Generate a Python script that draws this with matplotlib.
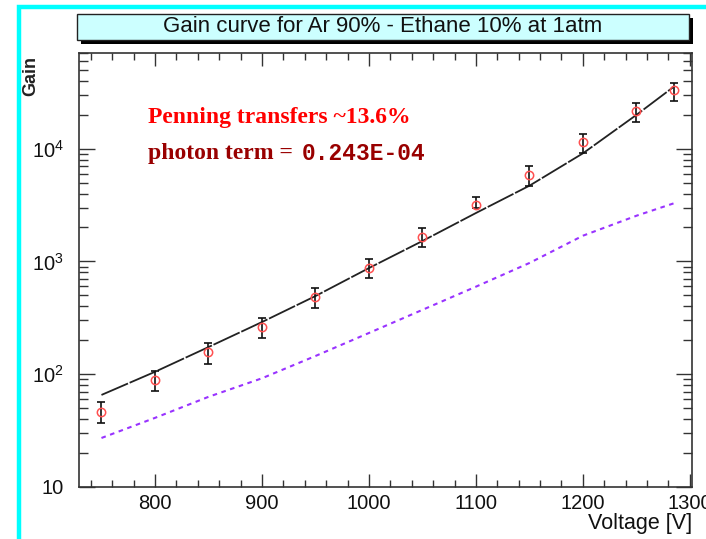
import matplotlib
matplotlib.use("Agg")
import matplotlib.pyplot as plt
from matplotlib.patches import Rectangle
from matplotlib.ticker import FixedLocator, MultipleLocator, LogLocator, NullFormatter, FixedFormatter

# ---- data ----
voltage = [750, 800, 850, 900, 950, 1000, 1050, 1100, 1150, 1200, 1250, 1285]
gain = [46, 89, 157, 262, 483, 873, 1645, 3160, 5880, 11500, 21400, 32900]
gain_lo = [37, 71, 123, 209, 386, 711, 1343, 3000, 4690, 9080, 17200, 26200]
gain_hi = [57, 107, 189, 316, 580, 1053, 1976, 3725, 7050, 13450, 25500, 38400]
fit_gain = [65.5, 105, 174, 290, 493, 873, 1517, 2686, 4690, 9080, 19900, 35400]
nophoton_gain = [27.2, 41, 63, 92, 145, 232, 372, 597, 968, 1690, 2540, 3275]
xtick_vals = [800, 900, 1000, 1100, 1200, 1300]
ytick_vals = [10, 100, 1000, 10000]
ytick_labels = ["10", r"$\mathregular{10^{2}}$", r"$\mathregular{10^{3}}$", r"$\mathregular{10^{4}}$"]

W, H = 706, 539
fig = plt.figure(figsize=(W / 100, H / 100), dpi=100)
fig.patch.set_facecolor("white")

def fx(px):
    return px / W

def fy(py):
    return 1 - py / H

# cyan frame
fig.add_artist(Rectangle((fx(18.5), fy(560)), fx(760), 553 / H,
                         transform=fig.transFigure, fill=False,
                         edgecolor="#00ffff", lw=3.2, zorder=0))

# title box with shadow
fig.add_artist(Rectangle((fx(81), fy(44.5)), fx(612), 26 / H, transform=fig.transFigure,
                         facecolor="black", edgecolor="black", lw=0, zorder=1))
fig.add_artist(Rectangle((fx(76.5), fy(39.5)), fx(612), 26 / H, transform=fig.transFigure,
                         facecolor="#ccffff", edgecolor="#222222", lw=1.0, zorder=2))
fig.text(fx(382.5), fy(26.5), "Gain curve for Ar 90% - Ethane 10% at 1atm",
         ha="center", va="center", fontsize=16, family="Liberation Sans",
         color="#111111", zorder=3)

ax = fig.add_axes([fx(79), fy(487), fx(692 - 79), (487 - 53) / H])
ax.set_yscale("log")
ax.set_xlim(729, 1302)
ax.set_ylim(10, 10 ** 4.848)

# fitted curve
ax.plot(voltage, fit_gain, color="#222222", lw=1.3, dashes=(16, 1.0), zorder=3)
# no-photon curve
ax.plot(voltage, nophoton_gain, color="#9933ff", lw=1.5, dashes=(2.2, 2.2), zorder=3)
# data
yerr = [[g - lo for g, lo in zip(gain, gain_lo)], [hi - g for g, hi in zip(gain, gain_hi)]]
ax.errorbar(voltage, gain, yerr=yerr, fmt="none", ecolor="#111111", elinewidth=1.2,
            capsize=3.2, capthick=1.2, zorder=4)
ax.plot(voltage, gain, "o", mfc="none", mec="#ff5050", mew=1.1, ms=6, zorder=5)

# ticks
ax.xaxis.set_major_locator(FixedLocator(xtick_vals))
ax.xaxis.set_minor_locator(MultipleLocator(20))
ax.yaxis.set_major_locator(FixedLocator(ytick_vals))
ax.yaxis.set_major_formatter(FixedFormatter(ytick_labels))
ax.yaxis.set_minor_locator(LogLocator(base=10, subs=range(2, 10)))
ax.yaxis.set_minor_formatter(NullFormatter())
ax.tick_params(axis="both", which="both", direction="in", top=True, right=True,
               color="#333333", width=1.0)
ax.tick_params(axis="x", which="major", length=9.5, pad=5)
ax.tick_params(axis="x", which="minor", length=5)
ax.tick_params(axis="y", which="major", length=11.5, pad=11)
ax.tick_params(axis="y", which="minor", length=6.5)
for lab in ax.get_xticklabels() + ax.get_yticklabels():
    lab.set_fontfamily("Liberation Sans")
    lab.set_fontsize(14.5)
    lab.set_color("#111111")
for sp in ax.spines.values():
    sp.set_color("#333333")
    sp.set_linewidth(1.2)

fig.text(fx(31), fy(56), "Gain", rotation=90, ha="center", va="top",
         fontsize=13, family="Liberation Sans", fontweight="bold", color="#222222")
fig.text(fx(692), fy(524), "Voltage [V]", ha="right", va="center",
         fontsize=15.5, family="Liberation Sans", color="#111111")

fig.text(fx(148), fy(118), "Penning transfers ~13.6%", ha="left", va="center",
         fontsize=17, family="Liberation Serif", fontweight="bold", color="#ff0000")
fig.text(fx(148), fy(153), "photon term = ", ha="left", va="center",
         fontsize=17, family="Liberation Serif", fontweight="bold", color="#990000")
fig.text(fx(302), fy(153), "0.243E-04", ha="left", va="center",
         fontsize=16.5, family="Liberation Mono", fontweight="bold", color="#990000")

fig.savefig("out.png", dpi=100)
